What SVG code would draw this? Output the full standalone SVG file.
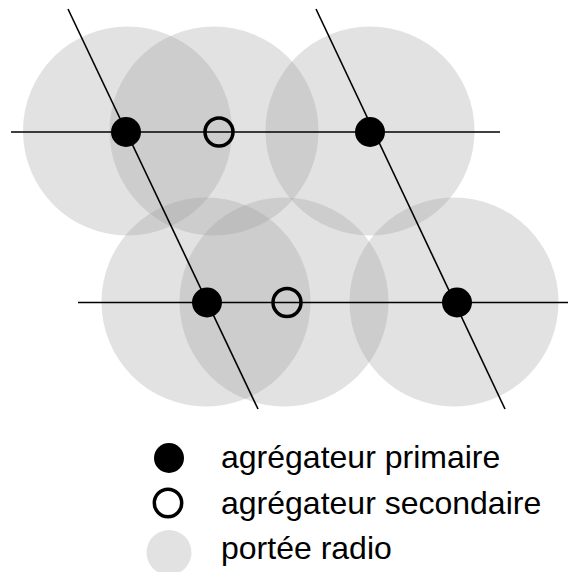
<svg xmlns="http://www.w3.org/2000/svg" width="568" height="572" viewBox="0 0 568 572">
<style>
.range{fill:#969696;fill-opacity:0.28;stroke:none}
.line{stroke:#000;stroke-width:1.6;fill:none}
.prim{fill:#000}
.sec{fill:none;stroke:#000;stroke-width:3.5}
.lbl{font-family:"Liberation Sans",Arial,sans-serif;font-size:32px;fill:#000}
</style>
<rect width="568" height="572" fill="#fff"/>
<g id="ranges">
<circle class="range" cx="127.5" cy="131" r="104.5"/>
<circle class="range" cx="214" cy="131" r="104.5"/>
<circle class="range" cx="370" cy="131" r="104.5"/>
<circle class="range" cx="206" cy="302" r="104.5"/>
<circle class="range" cx="284" cy="302" r="104.5"/>
<circle class="range" cx="454" cy="302" r="104.5"/>
</g>
<g id="connectors">
<line class="line" x1="11" y1="132" x2="500" y2="132"/>
<line class="line" x1="78" y1="302.5" x2="568" y2="302.5"/>
<line class="line" x1="68" y1="9" x2="258" y2="409"/>
<line class="line" x1="316" y1="9" x2="505" y2="409"/>
</g>
<g id="node-p1"><circle class="prim" cx="126" cy="132" r="15"/></g>
<g id="node-s1"><circle class="sec" cx="219" cy="132" r="14"/></g>
<g id="node-p2"><circle class="prim" cx="370" cy="132" r="15"/></g>
<g id="node-p3"><circle class="prim" cx="207" cy="302.5" r="15"/></g>
<g id="node-s2"><circle class="sec" cx="287" cy="302.5" r="14"/></g>
<g id="node-p4"><circle class="prim" cx="457" cy="302.5" r="15"/></g>
<g id="legend">
<circle class="prim" cx="169" cy="458" r="15"/>
<circle class="sec" cx="168" cy="503" r="13.7"/>
<circle class="range" cx="169" cy="552.5" r="22.5"/>
<text class="lbl" x="221" y="468">agrégateur primaire</text>
<text class="lbl" x="221" y="514">agrégateur secondaire</text>
<text class="lbl" x="221" y="559">portée radio</text>
</g>
</svg>
